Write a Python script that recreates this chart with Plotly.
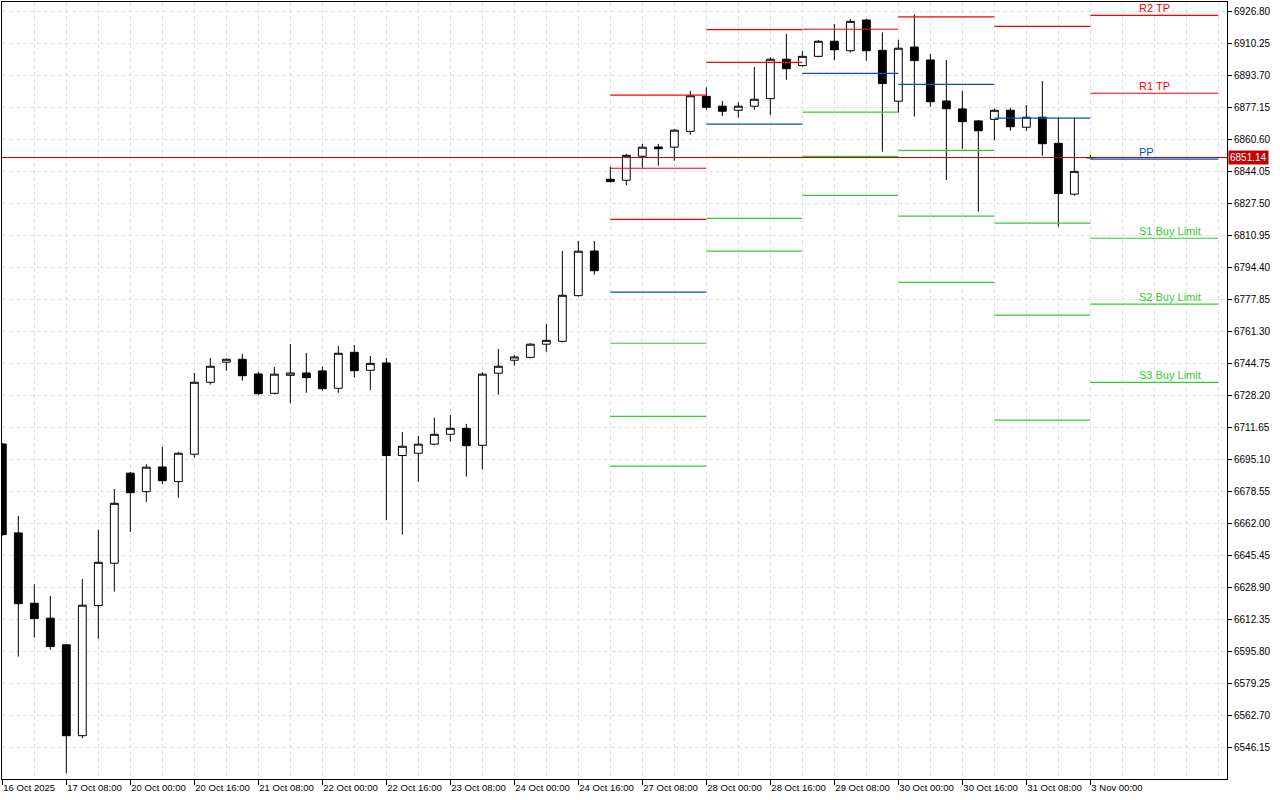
import plotly.graph_objects as go

# ---- data (H4 candles) ----
bar_index = list(range(69))
opens = [6703.0, 6657.0, 6620.6, 6612.9, 6599.1, 6552.1, 6619.4, 6641.3, 6687.9, 6678.3,
         6691.1, 6683.5, 6697.7, 6734.9, 6745.3, 6746.8, 6739.2, 6729.2, 6738.5, 6739.7,
         6740.8, 6731.8, 6750.4, 6741.1, 6744.9, 6697.0, 6698.2, 6702.9, 6708.0, 6711.1,
         6702.3, 6739.6, 6746.3, 6747.8, 6754.6, 6756.1, 6779.7, 6802.8, 6839.9, 6839.4,
         6851.8, 6856.6, 6856.5, 6864.7, 6882.8, 6877.7, 6875.6, 6877.7, 6881.6, 6902.0,
         6898.7, 6903.5, 6911.3, 6906.4, 6922.3, 6906.6, 6880.3, 6908.3, 6901.6, 6880.4,
         6876.3, 6870.1, 6870.9, 6875.6, 6866.8, 6872.0, 6858.5, 6832.2, 6851.0]
highs = [6703.5, 6665.8, 6630.4, 6624.4, 6599.5, 6633.2, 6658.5, 6679.7, 6688.5, 6692.5,
         6701.5, 6698.8, 6739.7, 6747.5, 6747.2, 6749.6, 6740.4, 6742.8, 6754.7, 6750.1,
         6743.0, 6753.7, 6754.2, 6748.5, 6747.5, 6709.2, 6707.1, 6716.5, 6718.0, 6713.4,
         6740.1, 6752.1, 6749.0, 6755.1, 6765.1, 6802.8, 6808.0, 6808.0, 6846.4, 6853.0,
         6858.2, 6858.2, 6865.8, 6885.6, 6887.5, 6880.4, 6879.7, 6898.0, 6903.0, 6915.1,
         6906.3, 6912.0, 6920.2, 6922.8, 6922.8, 6915.9, 6912.0, 6925.2, 6904.7, 6901.6,
         6885.7, 6870.5, 6876.4, 6876.9, 6878.3, 6890.8, 6872.0, 6872.0, 6852.6]
lows = [6655.5, 6593.0, 6602.8, 6596.6, 6532.7, 6550.8, 6602.2, 6626.6, 6657.5, 6673.0,
        6682.3, 6675.2, 6695.9, 6733.7, 6740.9, 6735.7, 6728.2, 6728.6, 6724.1, 6729.5,
        6730.6, 6729.5, 6737.3, 6730.9, 6663.7, 6656.1, 6683.4, 6702.3, 6704.2, 6686.1,
        6689.7, 6728.5, 6743.5, 6747.3, 6750.7, 6755.5, 6779.2, 6790.6, 6838.2, 6836.8,
        6845.9, 6846.9, 6849.5, 6863.0, 6875.8, 6872.6, 6871.8, 6875.9, 6873.2, 6891.4,
        6898.2, 6903.0, 6901.6, 6905.4, 6901.3, 6854.2, 6874.4, 6872.3, 6877.5, 6839.5,
        6855.6, 6823.2, 6859.9, 6865.0, 6865.0, 6852.1, 6815.4, 6831.4, 6850.9]
closes = [6656.1, 6620.4, 6612.7, 6598.2, 6552.1, 6619.6, 6641.8, 6672.3, 6677.8, 6691.0,
          6684.0, 6698.2, 6734.9, 6743.2, 6746.8, 6738.3, 6729.0, 6739.1, 6739.7, 6737.3,
          6731.6, 6749.9, 6740.9, 6744.7, 6697.0, 6701.8, 6702.9, 6708.0, 6711.1, 6702.1,
          6739.1, 6743.2, 6748.0, 6754.6, 6756.6, 6779.9, 6802.7, 6792.6, 6838.7, 6852.3,
          6856.5, 6855.7, 6865.3, 6883.1, 6877.1, 6875.1, 6877.7, 6881.3, 6902.0, 6897.1,
          6903.5, 6911.3, 6906.9, 6921.6, 6906.4, 6889.4, 6907.7, 6901.3, 6880.0, 6876.4,
          6869.7, 6865.0, 6875.6, 6867.1, 6872.0, 6858.3, 6832.5, 6844.0, 6851.14]

bid_price = 6851.14

tick_positions = [0, 4, 8, 12, 16, 20, 24, 28, 32, 36, 40, 44, 48, 52, 56, 60, 64, 68]
tick_labels = ["16 Oct 2025", "17 Oct 08:00", "20 Oct 00:00", "20 Oct 16:00", "21 Oct 08:00",
               "22 Oct 00:00", "22 Oct 16:00", "23 Oct 08:00", "24 Oct 00:00", "24 Oct 16:00",
               "27 Oct 08:00", "28 Oct 00:00", "28 Oct 16:00", "29 Oct 08:00", "30 Oct 00:00",
               "30 Oct 16:00", "31 Oct 08:00", "3 Nov 00:00"]

# daily pivot segments (start / end bar index) and levels
seg_start = [38, 44, 50, 56, 62, 68]
seg_end = [44, 50, 56, 62, 68, 76]
r3 = [6883.4, None, None, None, None, None]
r2 = [6845.6, 6917.3, None, None, None, 6924.7]
r1 = [6819.2, 6900.4, 6917.5, 6923.9, 6919.0, 6884.4]
pp = [6781.5, 6868.4, 6894.7, 6889.0, 6871.5, 6850.3]
s1 = [6755.1, 6851.3, 6874.6, 6854.9, 6817.2, 6809.4]
s2 = [6717.3, 6819.7, 6851.8, 6820.8, 6769.6, 6775.3]
s3 = [6691.5, 6802.7, 6831.6, 6786.6, 6715.3, 6734.9]

level_labels = ["R2 TP", "R1 TP", "PP", "S1 Buy Limit", "S2 Buy Limit", "S3 Buy Limit"]

RED = "#ff0000"
BLUE = "#0050c8"
GREEN = "#32cd32"
FONT = "Liberation Sans, Arial"

fig = go.Figure()


def seg_xy(levels_list):
    xs, ys = [], []
    for levels in levels_list:
        for a, b, v in zip(seg_start, seg_end, levels):
            if v is None:
                continue
            xs += [a, b, None]
            ys += [v, v, None]
    return xs, ys


for lvls, col in [([r3, r2, r1], RED), ([pp], BLUE), ([s1, s2, s3], GREEN)]:
    xs, ys = seg_xy(lvls)
    fig.add_trace(go.Scatter(x=xs, y=ys, mode="lines", line=dict(color=col, width=1.2),
                             hoverinfo="skip", showlegend=False))

fig.add_trace(go.Candlestick(
    x=bar_index, open=opens, high=highs, low=lows, close=closes,
    increasing=dict(fillcolor="white", line=dict(color="black", width=1)),
    decreasing=dict(fillcolor="black", line=dict(color="black", width=1)),
    whiskerwidth=0, showlegend=False))

# bid line
fig.add_shape(type="line", xref="paper", x0=0, x1=1, yref="y", y0=bid_price, y1=bid_price,
              line=dict(color="#b40000", width=1), layer="above")

# bid price tag
fig.add_annotation(xref="paper", x=1, y=bid_price, text=f"{bid_price:.2f}", showarrow=False,
                   xanchor="left", yanchor="middle", xshift=1, bgcolor="#c40000",
                   font=dict(color="white", size=10, family=FONT),
                   borderpad=1)

# labels of last day's levels
last_levels = [r2[-1], r1[-1], pp[-1], s1[-1], s2[-1], s3[-1]]
label_cols = [RED, RED, BLUE, GREEN, GREEN, GREEN]
for txt, val, col in zip(level_labels, last_levels, label_cols):
    fig.add_annotation(x=70.9, y=val, text=txt, showarrow=False, xanchor="left", yanchor="bottom",
                       yshift=-1, font=dict(color=col, size=11, family=FONT))

GRID = "#e0e0e0"
fig.update_layout(
    width=1280, height=800,
    margin=dict(l=2, r=53, t=2, b=21),
    paper_bgcolor="white", plot_bgcolor="white",
    font=dict(family=FONT, size=10, color="black"),
    xaxis=dict(range=[-0.02, 76.54], rangeslider=dict(visible=False),
               tickmode="array", tickvals=tick_positions, ticktext=tick_labels,
               ticks="outside", ticklen=5, tickcolor="black", tickangle=0,
               ticklabelposition="outside right", automargin=False,
               showgrid=True, gridcolor=GRID, griddash="4px,3px", gridwidth=1,
               minor=dict(tick0=0, dtick=2, showgrid=True, gridcolor=GRID,
                          griddash="4px,3px", ticks=""),
               showline=True, linecolor="black", linewidth=1, mirror=True,
               zeroline=False, tickfont=dict(size=9.5, family=FONT)),
    yaxis=dict(range=[6529.7, 6931.6], side="right", tick0=6546.15, dtick=16.55,
               tickformat=".2f", ticks="outside", ticklen=4, tickcolor="black",
               automargin=False,
               showgrid=True, gridcolor=GRID, griddash="4px,3px", gridwidth=1,
               showline=True, linecolor="black", linewidth=1, mirror=True,
               zeroline=False, tickfont=dict(size=10, family=FONT)),
    hovermode=False,
)

fig.write_html("out.html", config={"displayModeBar": False},
               post_script="document.body.style.margin='0';document.body.style.overflow='hidden';")
